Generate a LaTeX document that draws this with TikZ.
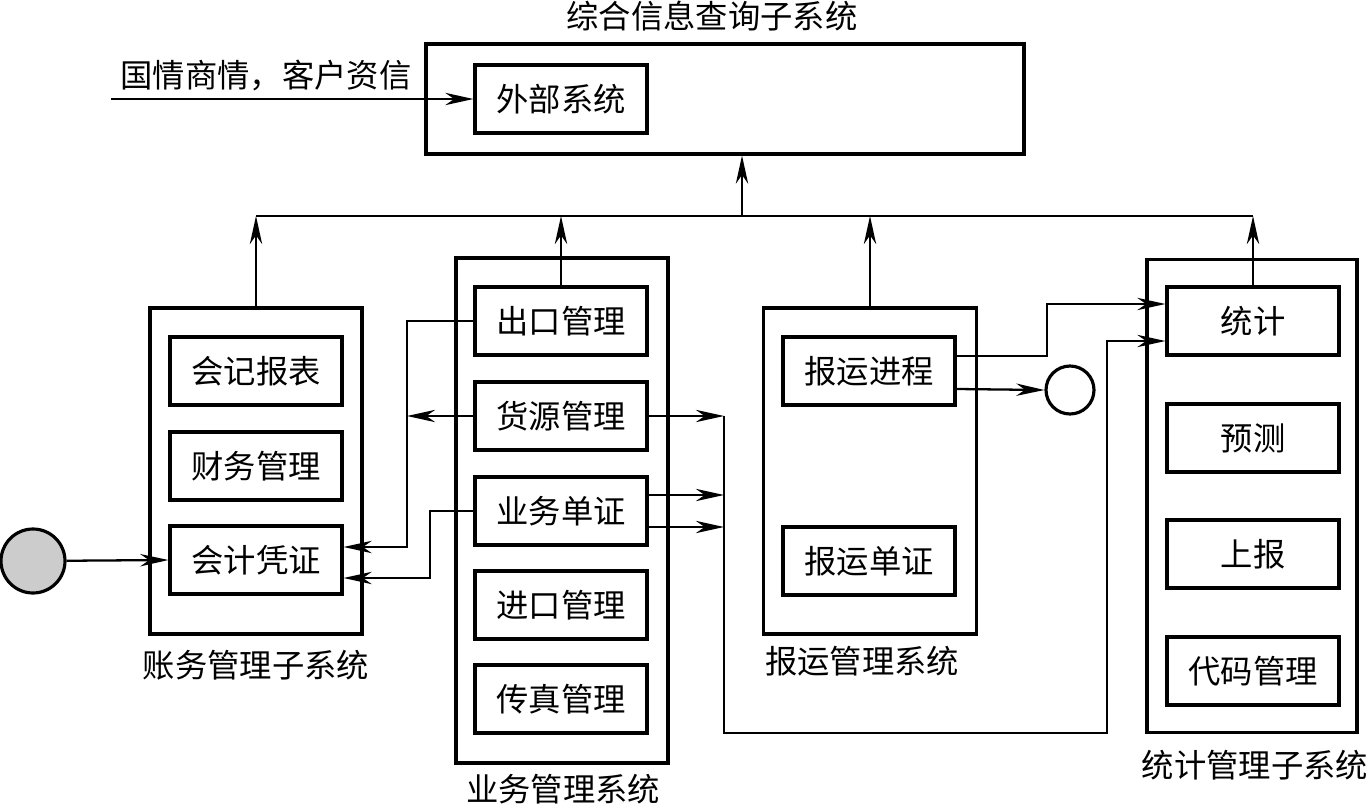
\documentclass[tikz,border=0pt]{standalone}
\usepackage{fontspec}
\setmainfont{Noto Sans CJK SC}
\usepackage{tikz}
\usetikzlibrary{arrows.meta,calc}
\tikzset{
  sysbox/.style={draw, line width=1.8pt, inner sep=0pt},
  modbox/.style={draw, line width=1.8pt, inner sep=0pt,
    minimum width=3.44cm, minimum height=1.36cm,
    font=\fontsize{18.4}{22}\selectfont},
  lbl/.style={inner sep=0pt, font=\fontsize{18.4}{22}\selectfont},
  flow/.style={line width=1.3pt, -{Stealth[length=16pt,width=7pt,inset=5pt]}},
  wire/.style={line width=1.3pt}
}
\begin{document}
\begin{tikzpicture}[x=0.02cm, y=-0.02cm]

  \useasboundingbox (0,0) rectangle (1372,808);

  % Outer systems
  \node[sysbox, minimum width=11.96cm, minimum height=2.2cm] (info) at (725,99) {};
  \node[sysbox, minimum width=4.24cm, minimum height=6.52cm] (acct) at (256,471) {};
  \node[sysbox, minimum width=4.24cm, minimum height=10.1cm] (biz) at (562,510.5) {};
  \node[sysbox, minimum width=4.26cm, minimum height=6.52cm] (ship) at (870,471) {};
  \node[sysbox, minimum width=4.2cm, minimum height=9.46cm] (stat) at (1252,496) {};

  % System names
  \node[lbl] (infoname) at (712,16) {综合信息查询子系统};
  \node[lbl] (acctname) at (256,665) {账务管理子系统};
  \node[lbl] (bizname) at (563,789) {业务管理系统};
  \node[lbl] (shipname) at (862,661) {报运管理系统};
  \node[lbl] (statname) at (1255,765) {统计管理子系统};
  \node[lbl] (inname) at (266,76) {国情商情，客户资信};

  % Modules
  \node[modbox] (ext) at (561,99) {外部系统};

  \node[modbox] (kjbb) at (256,371) {会记报表};
  \node[modbox] (cwgl) at (256,466) {财务管理};
  \node[modbox] (kjpz) at (256,560) {会计凭证};

  \node[modbox] (ckgl) at (561,321) {出口管理};
  \node[modbox] (hygl) at (561,416) {货源管理};
  \node[modbox] (ywdz) at (561,511) {业务单证};
  \node[modbox] (jkgl) at (561,605) {进口管理};
  \node[modbox] (czgl) at (561,699) {传真管理};

  \node[modbox] (bjc) at (869,371) {报运进程};
  \node[modbox] (bdz) at (869,561) {报运单证};

  \node[modbox] (tj) at (1253,321) {统计};
  \node[modbox] (yc) at (1253,438) {预测};
  \node[modbox] (sb) at (1253,554) {上报};
  \node[modbox] (dm) at (1253,671) {代码管理};

  % Circles
  \node[circle, draw, line width=1.8pt, fill=gray!40, minimum size=1.28cm, inner sep=0pt] (src) at (33,561) {};
  \node[circle, draw, line width=1.8pt, minimum size=0.96cm, inner sep=0pt] (sink) at (1070,390) {};

  % Bus to the query system
  \coordinate (busL) at (256,216);
  \coordinate (busR) at (1253,216);
  \coordinate (busM) at (742,216);
  \draw[wire] (busL) -- (busR);
  \draw[flow] (busM) -- (busM |- info.south);
  \draw[flow] (acct.north) -- (busL);
  \draw[flow] (ckgl.north) -- (ckgl.north |- busL);
  \draw[flow] (ship.north) -- (ship.north |- busL);
  \draw[flow] (tj.north) -- (busR);

  % Outside input
  \coordinate (inA) at (111,99);
  \draw[flow] (inA) -- (ext.west);

  % Into the accounts
  \coordinate (a1) at (407,547);
  \coordinate (a2) at (430,578);
  \draw[flow] (src) -- (kjpz.west);
  \draw[flow] (ckgl.west) -| (a1) -- (a1 -| kjpz.east);
  \draw[flow] (hygl.west) -- (hygl.west -| a1);
  \draw[flow] (ywdz.west) -| (a2) -- (a2 -| kjpz.east);

  % Business to statistics
  \coordinate (jx) at (724,733);
  \coordinate (jy) at (1107,341);
  \coordinate (d1) at ($(ywdz.east)+(0,-16)$);
  \coordinate (d2) at ($(ywdz.east)+(0,16)$);
  \draw[flow] (hygl.east) -- (hygl.east -| jx);
  \draw[flow] (d1) -- (d1 -| jx);
  \draw[flow] (d2) -- (d2 -| jx);
  \draw[flow] (hygl.east -| jx) -- (jx) -| (jy) -- (jy -| tj.west);

  % Shipping to statistics
  \coordinate (s1) at (1047,304);
  \coordinate (b1) at ($(bjc.east)+(0,-15)$);
  \coordinate (b2) at ($(bjc.east)+(0,18)$);
  \draw[flow] (b1) -| (s1) -- (s1 -| tj.west);
  \draw[flow] (b2) -- (sink.west);

\end{tikzpicture}
\end{document}
